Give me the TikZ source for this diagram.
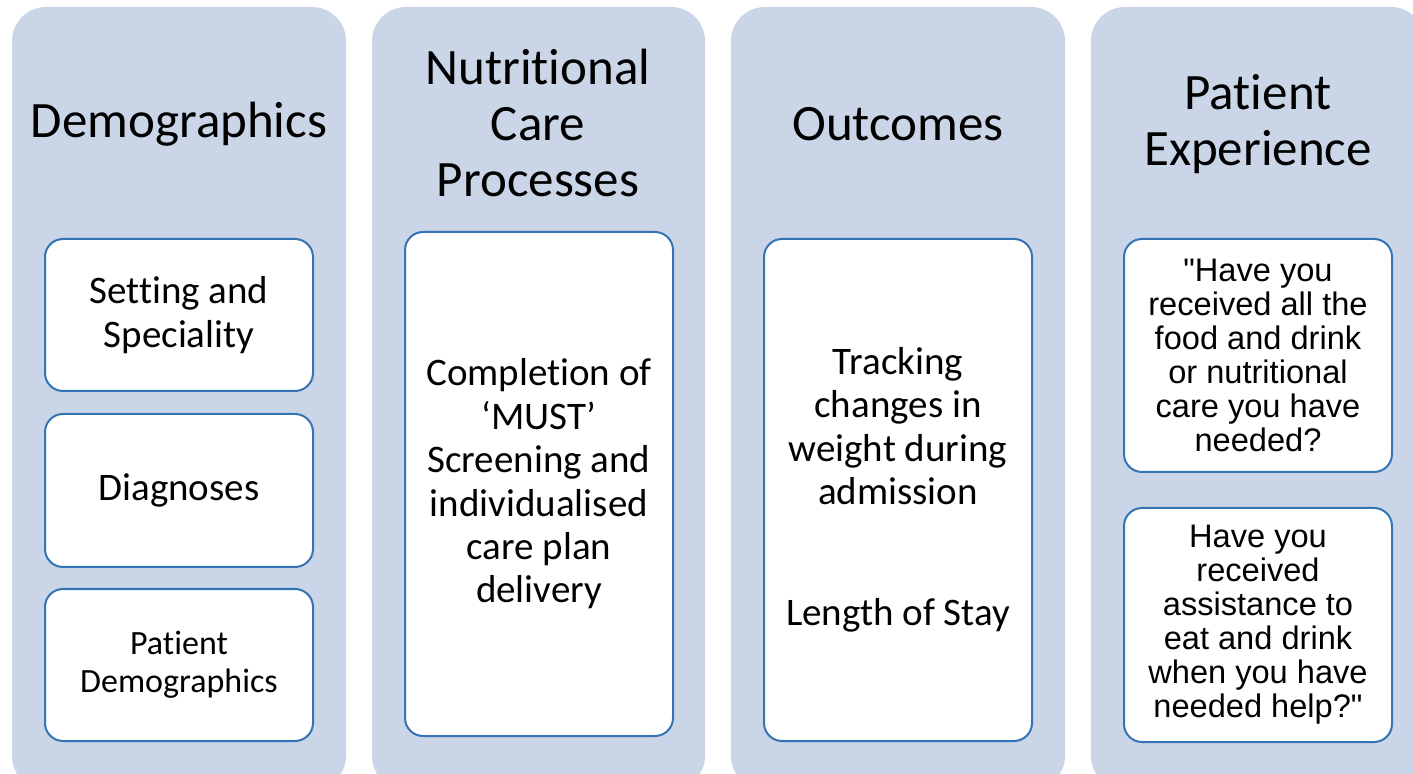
\documentclass[tikz,border=0pt]{standalone}
\usepackage{fontspec}
\setmainfont{Carlito}[RawFeature={-liga;-clig;-calt;-dlig;-rlig}]
\newfontfamily\arialf{Liberation Sans}
\definecolor{colfill}{RGB}{203,213,232}
\definecolor{boxline}{RGB}{52,116,181}
\newcommand\nolig{\kern0pt{}}
\begin{document}
\begin{tikzpicture}[x=0.5pt,y=-0.5pt,
  column/.style={fill=colfill, draw=none, rounded corners=17pt},
  title/.style={align=center, font=\fontsize{25.5}{28}\selectfont, inner sep=0pt, text=black},
  itembox/.style={draw=boxline, line width=1pt, fill=white, rounded corners=9pt, align=center,
    inner sep=0pt, minimum width=134pt, text=black, font=\fontsize{19.5}{21.7}\selectfont},
  qbox/.style={itembox, font=\arialf\fontsize{16.3}{17}\selectfont},
]
\useasboundingbox (0,0) rectangle (1413,774);
\clip (0,0) rectangle (1413,774);
% columns
\path[column] (12,7) rectangle (346,790);
\path[column] (372,7) rectangle (705,790);
\path[column] (731,7) rectangle (1065,790);
\path[column] (1091,7) rectangle (1425,790);
% titles
\node[title] (t1) at (179,124) {Demographics};
\node[title] (t2) at (538,123) {Nutrit\nolig ional\\Care\\Processes};
\node[title] (t3) at (898,124) {Outcomes};
\node[title] (t4) at (1258,124) {Pat\nolig ient\\Experience};
% column 1
\node[itembox, minimum height=76pt] (c1a) at (179,315) {Sett\nolig ing and\\Speciality};
\node[itembox, minimum height=76.5pt] (c1b) at (179,490.5) {Diagnoses};
\node[itembox, minimum height=76pt, font=\fontsize{17}{19}\selectfont] (c1c) at (179,665) {Pat\nolig ient\\Demographics};
% column 2
\node[itembox, minimum height=252pt] (c2) at (539,484) {Complet\nolig ion of\\‘MUST’\\Screening and\\individualised\\care plan\\delivery};
% column 3
\node[itembox, minimum height=251pt] (c3) at (898,490) {Tracking\\changes in\\weight during\\admission\\[38.8pt]Length of Stay};
% column 4
\node[qbox, minimum height=116.5pt] (c4a) at (1258,355.5) {"Have you\\received all the\\food and drink\\or nutritional\\care you have\\needed?};
\node[qbox, minimum height=117pt] (c4b) at (1258,625) {Have you\\received\\assistance to\\eat and drink\\when you have\\needed help?"};
\end{tikzpicture}
\end{document}
